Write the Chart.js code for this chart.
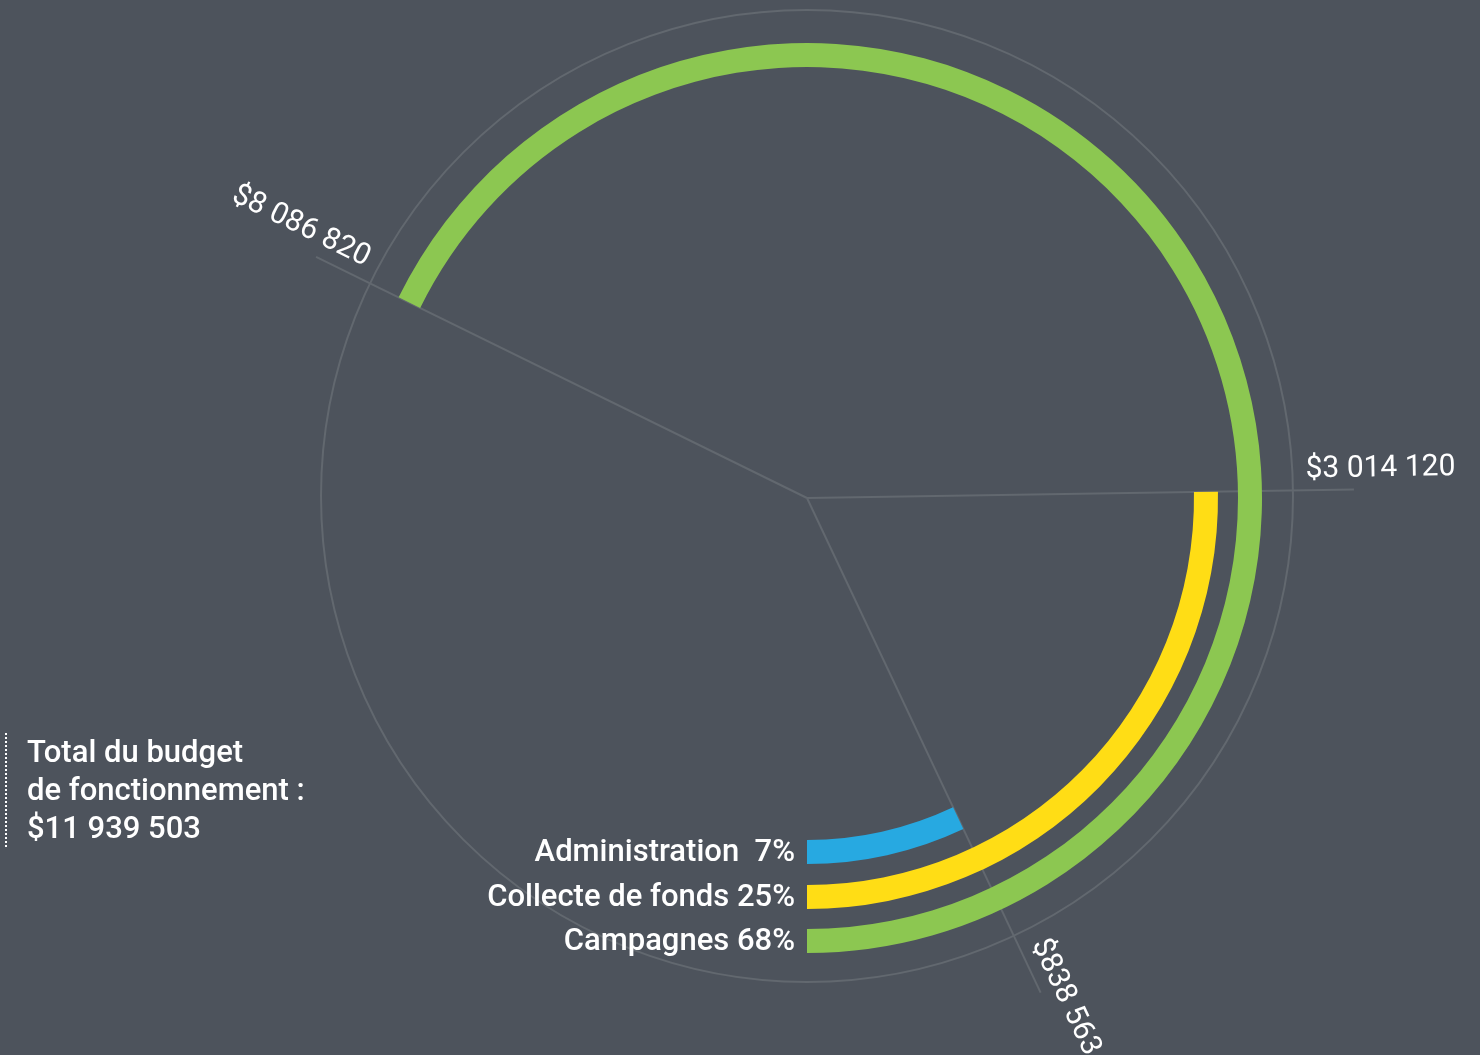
<!DOCTYPE html>
<html>
<head>
<meta charset="utf-8">
<script src="https://cdn.jsdelivr.net/npm/chart.js@4.4.1/dist/chart.umd.min.js"></script>
<style>
  html, body { margin: 0; padding: 0; background: #4d535c; }
  #wrap { position: relative; width: 1480px; height: 1055px; overflow: hidden; }
  #total {
    position: absolute; left: 5px; top: 733px;
    padding-left: 20px; border-left: 2px dotted #ffffff;
    color: #ffffff; font: 500 31px Roboto, "Liberation Sans", sans-serif; line-height: 38px;
  }
</style>
</head>
<body>
<div id="wrap">
  <canvas id="budgetChart"></canvas>
  <div id="total"></div>
</div>
<script>
// outer ring first
const categories = ["Campagnes", "Collecte de fonds", "Administration"];
const amounts = [8086820, 3014120, 838563];
const colors = ["#8cc751", "#ffdd15", "#27a9e1"];
const totalLines = ["Total du budget", "de fonctionnement :"];

const total = amounts.reduce((a, b) => a + b, 0);

const ringWeight = 24;
const gapWeights = [20, 21];

function money(v) {
  return "$" + String(v).replace(/\B(?=(\d{3})+(?!\d))/g, " ");
}

document.getElementById("total").innerHTML =
  totalLines.join("<br>") + "<br>" + money(total);

// build rings: value ring, transparent spacer, value ring...
const datasets = [];
categories.forEach((cat, i) => {
  if (i > 0) {
    datasets.push({
      label: "",
      data: [1],
      backgroundColor: ["rgba(0,0,0,0)"],
      weight: gapWeights[i - 1],
      spacer: true
    });
  }
  datasets.push({
    label: cat,
    data: [total - amounts[i], amounts[i]],
    backgroundColor: ["rgba(0,0,0,0)", colors[i]],
    weight: ringWeight,
    rotation: 180,
    amount: amounts[i]
  });
});

const ringDecor = {
  id: "ringDecor",
  beforeDatasetsDraw(chart) {
    const ctx = chart.ctx;
    const outer = chart.getDatasetMeta(0).data[1];
    const cx = outer.x, cy = outer.y, R = outer.outerRadius;
    ctx.save();
    ctx.strokeStyle = "#62686f";
    ctx.lineWidth = 2;
    ctx.beginPath();
    ctx.arc(cx, cy - 2, R + 31, 0, Math.PI * 2);
    ctx.stroke();
    chart.data.datasets.forEach((ds, i) => {
      if (ds.spacer) return;
      const a = chart.getDatasetMeta(i).data[1].startAngle;
      ctx.beginPath();
      ctx.moveTo(cx, cy);
      ctx.lineTo(cx + (R + 92) * Math.cos(a), cy + (R + 92) * Math.sin(a));
      ctx.stroke();
    });
    ctx.restore();
  },
  afterDatasetsDraw(chart) {
    const ctx = chart.ctx;
    const outer = chart.getDatasetMeta(0).data[1];
    const cx = outer.x, cy = outer.y, R = outer.outerRadius;
    ctx.save();
    ctx.fillStyle = "#ffffff";
    chart.data.datasets.forEach((ds, i) => {
      if (ds.spacer) return;
      const el = chart.getDatasetMeta(i).data[1];
      // amount along the boundary line, starting just outside the thin circle
      const a = el.startAngle;
      const flip = Math.cos(a) < 0;
      ctx.save();
      ctx.translate(cx + (R + 44) * Math.cos(a), cy + (R + 44) * Math.sin(a));
      ctx.rotate(flip ? a + Math.PI : a);
      ctx.font = "400 30px Roboto, 'Liberation Sans', sans-serif";
      ctx.textAlign = flip ? "right" : "left";
      ctx.textBaseline = "alphabetic";
      ctx.fillText(money(ds.amount), 0, -13);
      ctx.restore();
      // category label at ring start
      const pct = String(Math.round(ds.amount / total * 100)).padStart(2, " ");
      ctx.font = "500 31px Roboto, 'Liberation Sans', sans-serif";
      ctx.textAlign = "right";
      ctx.textBaseline = "alphabetic";
      ctx.fillText(ds.label + " " + pct + "%", cx - 12, cy + (el.innerRadius + el.outerRadius) / 2 + 9);
    });
    ctx.restore();
  }
};

new Chart(document.getElementById("budgetChart"), {
  type: "doughnut",
  data: { labels: ["", ""], datasets },
  options: {
    responsive: true,
    maintainAspectRatio: false,
    animation: false,
    events: [],
    cutout: 342,
    rotation: 180,
    layout: { padding: { left: 352, right: 218, top: 43, bottom: 102 } },
    elements: { arc: { borderWidth: 0, hoverOffset: 0 } },
    plugins: { legend: { display: false }, tooltip: { enabled: false } }
  },
  plugins: [ringDecor]
});
</script>
</body>
</html>
